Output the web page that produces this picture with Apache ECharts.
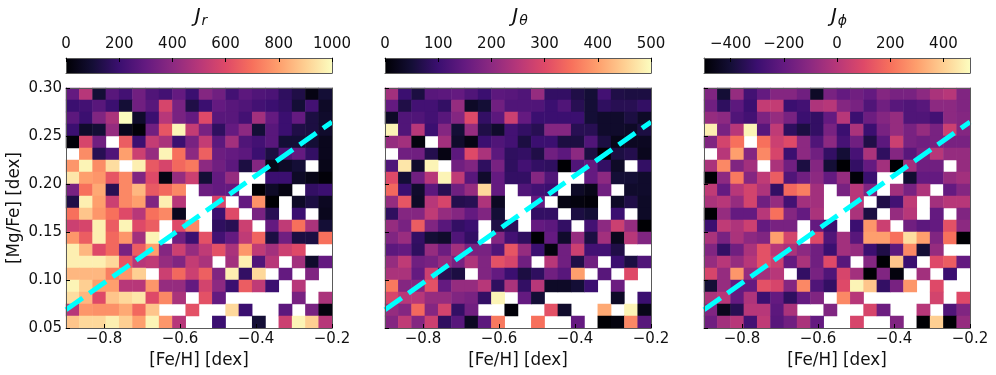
<!DOCTYPE html>
<html>
<head>
<meta charset="utf-8">
<style>
  html, body { margin: 0; padding: 0; background: #fff; }
  #chart { width: 996px; height: 375px; }
</style>
<script src="https://cdn.jsdelivr.net/npm/echarts@6/dist/echarts.min.js"></script>
</head>
<body>
<div id="chart"></div>
<script>
const N = null // empty bin, stays white

// rows run top to bottom ([Mg/Fe] 0.30 -> 0.05), columns [Fe/H] -0.9 -> -0.2
const jrRows = [
  [300,500,100,270,220,330,250,220,300,200,380,330,220,280,250,240,170,130,30,100],
  [200,220,270,200,100,330,270,580,350,130,200,300,270,250,220,200,180,100,220,70],
  [280,200,370,470,1000,80,200,500,350,300,600,270,270,220,450,300,200,300,120,80],
  [200,80,100,420,50,10,330,630,980,530,350,170,300,400,100,270,200,130,120,80],
  [10,580,330,N,650,200,530,470,200,350,530,280,450,250,220,270,100,100,100,50],
  [N,760,150,250,800,550,420,980,700,400,660,320,300,280,200,120,250,300,180,50],
  [780,980,760,930,N,970,640,580,680,720,400,330,280,120,380,40,70,100,N,40],
  [950,800,780,630,750,370,600,30,420,550,100,300,420,N,N,200,200,70,40,10],
  [350,700,820,150,750,850,640,680,750,N,320,300,300,N,0,70,30,N,180,200],
  [130,970,800,550,750,800,370,970,500,N,N,580,N,300,770,0,N,70,120,60],
  [700,880,780,700,600,500,700,750,50,N,N,200,600,N,350,150,N,200,N,50],
  [550,580,970,650,980,600,650,N,600,750,N,170,150,550,N,300,520,700,470,100],
  [780,650,970,680,780,450,980,N,330,200,620,220,300,520,670,120,330,120,120,700],
  [970,850,600,680,350,650,800,380,550,420,520,620,470,780,520,450,550,600,N,N],
  [970,970,970,920,630,500,520,420,370,530,470,N,450,970,250,500,N,450,80,300],
  [850,850,850,730,780,900,N,550,680,550,660,370,970,180,920,N,300,N,370,N],
  [980,900,800,800,500,500,780,420,420,300,570,400,200,650,520,200,N,500,N,N],
  [930,850,600,880,920,950,600,750,470,N,620,300,N,N,N,N,N,350,N,470],
  [500,780,770,770,820,680,880,N,N,620,N,N,920,200,N,N,280,N,350,20],
  [880,920,920,970,900,800,980,780,500,N,N,200,N,N,100,N,550,980,900,500]
]
const jThetaRows = [
  [225,100,60,135,140,150,125,100,140,135,125,210,90,90,65,50,110,65,60,60],
  [150,65,110,110,90,210,35,50,165,125,125,125,100,125,75,50,85,75,75,90],
  [35,125,125,110,135,190,300,90,140,275,150,100,100,100,100,50,40,40,60,35],
  [490,125,250,100,190,50,210,65,40,110,90,75,190,190,75,75,40,40,35,60],
  [210,225,10,N,225,40,15,100,125,110,60,100,100,60,60,125,60,20,30,30],
  [N,165,165,70,15,140,300,235,140,85,90,65,165,140,200,60,0,60,70,25],
  [125,475,40,490,N,165,185,85,175,85,110,90,85,0,125,150,90,35,N,90],
  [300,50,165,250,490,260,135,40,150,90,90,190,125,N,N,150,200,50,50,40],
  [340,100,40,140,75,165,210,460,150,N,125,110,100,N,35,20,165,N,40,40],
  [210,315,35,250,290,70,75,240,30,N,N,150,N,15,10,5,N,35,65,35],
  [85,190,190,260,210,190,150,185,50,N,N,90,90,N,60,50,N,100,N,35],
  [210,175,325,185,135,90,100,N,65,80,N,150,140,90,N,110,200,275,210,0],
  [185,215,90,50,40,125,90,N,190,110,85,0,150,40,210,60,225,25,250,185],
  [140,150,85,210,160,225,175,175,125,315,210,100,10,165,275,110,110,65,N,N],
  [210,260,165,175,210,175,240,185,310,290,165,N,250,165,65,165,N,100,60,125],
  [235,235,150,275,75,60,N,185,150,100,60,85,165,135,400,N,135,N,300,N],
  [360,190,190,310,150,210,210,250,85,235,90,250,35,35,50,100,N,160,N,N],
  [290,250,250,210,210,185,175,90,490,N,150,50,N,N,N,N,N,35,N,100],
  [210,190,340,190,285,90,165,N,N,5,N,N,310,40,N,N,410,N,490,20],
  [190,260,190,275,85,135,30,140,360,N,N,350,N,N,150,N,0,10,375,135]
]
const jPhiRows = [
  [-130,-400,-80,-280,-200,-120,-120,-170,-430,-150,-200,-170,-200,-120,-150,-150,-100,-30,0,-130],
  [-170,-330,-220,-300,30,30,-300,-280,-20,0,-120,-150,-250,-170,-230,-250,-230,-100,-100,-130],
  [-80,-100,-250,-280,-140,-80,-150,-300,-320,-200,0,-300,-180,-120,-80,-250,-250,-280,-100,-120],
  [470,-150,0,480,-230,20,-330,-380,-320,-150,-300,-30,-300,-150,-80,-150,-80,-150,50,-120],
  [-130,70,200,N,200,50,100,-100,-250,-100,-270,-170,-370,-220,50,-150,-170,-150,-150,-150],
  [N,0,300,-120,250,80,-300,-100,-170,-320,-400,-270,-30,-330,-120,-230,-150,0,-80,-80],
  [-30,250,-130,-50,N,-30,-170,-380,-120,-400,-500,-320,-200,-50,-500,-50,-170,-170,N,-80],
  [-500,-100,220,-120,20,150,-250,-170,-100,-200,-80,-490,-300,N,N,-410,-200,-200,-80,-50],
  [20,-200,0,70,-20,-320,180,230,-50,N,-150,0,-130,N,-50,-150,-20,N,-200,-120],
  [-30,0,-80,70,-170,-80,-280,-50,-50,N,N,0,N,-370,-280,20,N,-50,0,0],
  [-500,-80,-200,-200,0,200,-120,-200,-30,N,N,-30,-380,N,-80,0,N,-200,N,-130],
  [-300,20,-20,50,-200,-150,-150,N,-200,-300,N,-300,280,50,N,-170,-220,-200,120,-100],
  [-30,-150,-30,-100,-130,300,70,N,100,-250,-50,-230,300,300,200,430,300,-130,200,-500],
  [-130,-320,-170,-30,120,0,-30,-100,-170,-300,-50,-80,-300,-370,-220,250,-400,-80,N,N],
  [-80,0,-80,0,120,50,-200,-30,-170,100,-230,N,-120,-500,380,-300,N,100,150,-200],
  [80,-80,280,-80,-50,0,N,-320,-150,-250,80,-50,-500,-130,-480,N,-50,N,-300,N],
  [-400,-80,-200,-200,120,80,-120,250,-250,-320,100,480,380,-320,-150,280,N,100,N,N],
  [-30,0,-200,-20,-300,-200,-330,-200,-130,N,250,0,N,N,N,N,N,70,N,100],
  [-130,-450,-350,0,0,-220,-30,N,N,-130,N,N,80,-180,N,N,0,N,-250,-130],
  [-170,-50,0,-280,20,-230,-170,-30,-200,N,N,80,N,N,-130,N,-500,400,-500,-80]
]

const feTicks = [-0.8, -0.6, -0.4, -0.2]
const dashFe = [-0.9, -0.2]
const dashMg = [0.069, 0.2646]
const jrTicks = [0, 200, 400, 600, 800, 1000]
const jThetaTicks = [0, 100, 200, 300, 400, 500]
const jPhiTicks = [-400, -200, 0, 200, 400]
const magma = ['#000004','#140e36','#3b0f70','#641a80','#8c2981','#b73779','#de4968','#f7705c','#fe9f6d','#fecf92','#fcfdbf']

const panels = [
  { sub: 'r', rows: jrRows, min: 0, max: 1000, ticks: jrTicks, left: 66 },
  { sub: 'θ', rows: jThetaRows, min: 0, max: 500, ticks: jThetaTicks, left: 385 },
  { sub: 'ϕ', rows: jPhiRows, min: -500, max: 500, ticks: jPhiTicks, left: 704 }
]

const FONT = '"DejaVu Sans"'
const INK = '#111'
const FRAME = '#5a5a5a'
const WIDTH = 266

var option = {
  animation: false,
  backgroundColor: '#fff',
  textStyle: { fontFamily: FONT },
  title: [], grid: [], xAxis: [], yAxis: [], series: [], visualMap: []
}

const binNames = []
for (let i = 0; i < 20; i++) binNames.push(String(i))
const lineOnly = { axisLabel: { show: false }, axisTick: { show: false }, splitLine: { show: false } }
const frameLine = { show: true, onZero: false, lineStyle: { color: FRAME, width: 1 } }

panels.forEach((p, i) => {
  // heatmap grid: value axes carry the ticks, category axes place the cells
  // outerBoundsMode none, otherwise v6 shrinks the grid to fit the axis names
  option.grid.push({ left: p.left, width: WIDTH, top: 88, height: 240, outerBoundsMode: 'none' })
  let gridIndex = option.grid.length - 1
  let xValue = option.xAxis.length
  let yValue = option.yAxis.length
  option.xAxis.push({
    type: 'value', gridIndex, position: 'bottom', min: -0.9, max: -0.2, z: 5,
    name: '[Fe/H] [dex]', nameLocation: 'middle', nameGap: 22,
    nameTextStyle: { fontSize: 16.8, color: INK, fontFamily: FONT },
    axisLine: frameLine, splitLine: { show: false },
    axisTick: { inside: true, length: 4, customValues: feTicks, lineStyle: { color: '#000' } },
    axisLabel: {
      customValues: feTicks, fontSize: 15, color: INK, margin: 4, fontFamily: FONT,
      formatter: v => (v < 0 ? '−' : '') + Math.abs(v).toFixed(1)
    }
  })
  option.xAxis.push(Object.assign({
    type: 'category', gridIndex, position: 'top', data: binNames, z: 5, axisLine: frameLine
  }, lineOnly))
  option.yAxis.push({
    type: 'value', gridIndex, position: 'left', min: 0.05, max: 0.3, interval: 0.05, z: 5,
    name: i == 0 ? '[Mg/Fe] [dex]' : '', nameLocation: 'middle', nameGap: 43,
    nameTextStyle: { fontSize: 16.8, color: INK, fontFamily: FONT },
    axisLine: frameLine, splitLine: { show: false },
    axisTick: { inside: true, length: 4, lineStyle: { color: '#000' } },
    axisLabel: {
      show: i == 0, fontSize: 15, color: INK, margin: 4, fontFamily: FONT,
      formatter: v => v.toFixed(2)
    }
  })
  option.yAxis.push(Object.assign({
    type: 'category', gridIndex, position: 'right', data: binNames, z: 5, axisLine: frameLine
  }, lineOnly))

  let cells = []
  p.rows.forEach((row, r) => row.forEach((v, c) => {
    if (v !== N) cells.push([c, 19 - r, v])
  }))
  let heatIndex = option.series.length
  option.series.push({
    type: 'heatmap', xAxisIndex: xValue + 1, yAxisIndex: yValue + 1, data: cells,
    progressive: 0, itemStyle: { borderWidth: 0 }, emphasis: { disabled: true }
  })
  option.visualMap.push({
    show: false, type: 'continuous', seriesIndex: heatIndex, dimension: 2,
    min: p.min, max: p.max, inRange: { color: magma }
  })
  option.series.push({
    type: 'line', xAxisIndex: xValue, yAxisIndex: yValue, z: 4, symbol: 'none', silent: true,
    data: dashFe.map((fe, k) => [fe, dashMg[k]]),
    lineStyle: { color: '#00ffff', width: 5, type: [20.4, 8.2], cap: 'butt' }
  })

  // colour bar above the panel
  option.grid.push({ left: p.left, width: WIDTH, top: 58, height: 15, outerBoundsMode: 'none' })
  gridIndex = option.grid.length - 1
  let barX = option.xAxis.length
  let barY = option.yAxis.length
  option.xAxis.push({
    type: 'value', gridIndex, position: 'top', min: p.min, max: p.max, z: 5,
    axisLine: frameLine, splitLine: { show: false },
    axisTick: { inside: true, length: 4, customValues: p.ticks, lineStyle: { color: '#000' } },
    axisLabel: {
      customValues: p.ticks, fontSize: 15, color: INK, margin: 6, fontFamily: FONT,
      formatter: v => (v < 0 ? '−' : '') + Math.abs(v)
    }
  })
  option.xAxis.push(Object.assign({
    type: 'value', gridIndex, position: 'bottom', min: p.min, max: p.max, z: 5, axisLine: frameLine
  }, lineOnly))
  option.yAxis.push(Object.assign({
    type: 'value', gridIndex, position: 'left', min: 0, max: 1, z: 5, axisLine: frameLine
  }, lineOnly))
  option.yAxis.push(Object.assign({
    type: 'value', gridIndex, position: 'right', min: 0, max: 1, z: 5, axisLine: frameLine
  }, lineOnly))
  option.series.push({
    type: 'custom', xAxisIndex: barX, yAxisIndex: barY, silent: true,
    data: [[p.min, p.max]], encode: { x: [0, 1] },
    renderItem: (params, api) => {
      let a = api.coord([api.value(0), 0])
      let b = api.coord([api.value(1), 1])
      return {
        type: 'rect',
        shape: { x: a[0], y: b[1], width: b[0] - a[0], height: a[1] - b[1] },
        style: {
          fill: new echarts.graphic.LinearGradient(0, 0, 1, 0,
            magma.map((c, k) => ({ offset: k / (magma.length - 1), color: c })))
        }
      }
    }
  })

  option.title.push({
    text: '{j|J}{s|' + p.sub + '}',
    left: p.left + WIDTH / 2 - 3, top: 1, textAlign: 'center',
    textStyle: {
      rich: {
        j: { fontFamily: FONT, fontStyle: 'italic', fontWeight: 'normal', fontSize: 20, color: INK },
        s: { fontFamily: FONT, fontStyle: 'italic', fontWeight: 'normal', fontSize: 14, color: INK, padding: [8, 0, 0, 1] }
      }
    }
  })
})

var myChart = echarts.init(document.getElementById('chart'), null, { renderer: 'canvas' })
myChart.setOption(option)
</script>
</body>
</html>
